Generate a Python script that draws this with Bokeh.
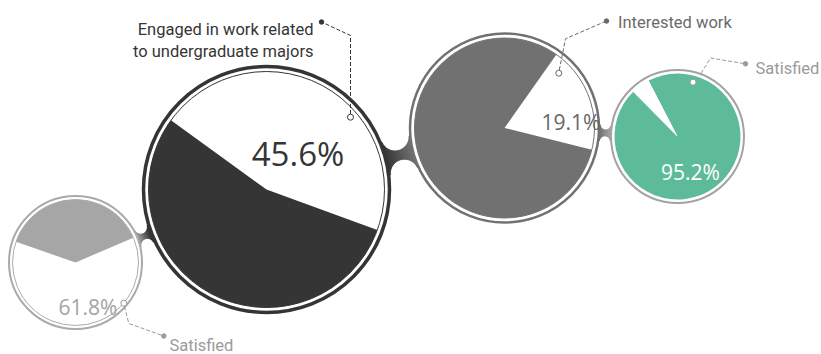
import math
import numpy as np
from bokeh.plotting import figure
from bokeh.models import Range1d
from bokeh.core.properties import value
from bokeh.embed import file_html
from bokeh.resources import INLINE

# ---------------- data ----------------
categories = ["Satisfied", "Engaged in work related\nto undergraduate majors", "Interested work", "Satisfied"]
percent = [61.8, 45.6, 19.1, 95.2]
percent_labels = ["61.8%", "45.6%", "19.1%", "95.2%"]

# ---------------- layout / style (image pixel coords) ----------------
IMG_H = 354
def Y(y):
    return IMG_H - y

cx = [75, 266, 504, 677]
cy = [262, 189, 127.5, 136]
ring_r = [66.5, 123, 94.5, 66.5]
ring_w = [2.0, 3.5, 2.5, 2.0]
pie_r = [63, 118, 90, 63]
ring_col = ["#aaaaaa", "#353535", "#717171", "#a3a3a3"]
val_col = ["#ffffff", "#ffffff", "#ffffff", "#5dbb99"]
rest_col = ["#a6a6a6", "#353535", "#717171", "#ffffff"]
mid_angle = [272.0, 62.0, 20.4, 306.0]
outline = [True, True, True, False]

bridges = [(0, 1, 5.0), (1, 2, 9.0), (2, 3, 5.0)]

W, H = 821, 354
p = figure(width=W, height=H, x_range=Range1d(0, W), y_range=Range1d(0, H),
           output_backend="svg", toolbar_location=None, x_axis_type=None, y_axis_type=None,
           min_border=0, outline_line_color=None)
p.background_fill_color = "white"
p.border_fill_color = "white"


def hex_rgb(h):
    h = h.lstrip("#")
    return tuple(int(h[i:i + 2], 16) for i in (0, 2, 4))


def mix(c1, c2, t):
    a, b = hex_rgb(c1), hex_rgb(c2)
    return "#%02x%02x%02x" % tuple(int(round(a[i] + (b[i] - a[i]) * t)) for i in range(3))


# ---------------- bridges (metaball connectors) ----------------
bx_all, by_all, bc_all = [], [], []
for i, j, wmin in bridges:
    ax_, ay_ = cx[i], Y(cy[i])
    bx_, by_ = cx[j], Y(cy[j])
    ra = ring_r[i] + ring_w[i] / 2
    rb = ring_r[j] + ring_w[j] / 2
    dx, dy = bx_ - ax_, by_ - ay_
    D = math.hypot(dx, dy)
    ux, uy = dx / D, dy / D
    vx, vy = -uy, ux
    g = D - ra - rb
    best = None
    R = max(g / 2, 0.5) + 0.01
    while R < 400:
        a, b = ra + R, rb + R
        x0 = (D * D + a * a - b * b) / (2 * D)
        h2 = a * a - x0 * x0
        if h2 > 0:
            h = math.sqrt(h2)
            if h - R >= wmin / 2:
                best = (R, x0, h, a, b)
                break
        R += 0.05
    R, x0, h, a, b = best
    sA, tA = ra * x0 / a, ra * h / a
    sB, tB = D - rb * (D - x0) / b, rb * h / b

    def half(s):
        if s <= sA:
            return tA
        if s >= sB:
            return tB
        return h - math.sqrt(max(R * R - (s - x0) ** 2, 0.0))

    n = 40
    svals = np.linspace(sA - 8, sB + 8, n + 1)
    for k in range(n):
        s0, s1 = svals[k], svals[k + 1] + 0.6
        ss = np.linspace(s0, s1, 5)
        top = [(s, half(s)) for s in ss]
        bot = [(s, -half(s)) for s in ss[::-1]]
        pts = top + bot
        bx_all.append([ax_ + s * ux + t * vx for s, t in pts])
        by_all.append([ay_ + s * uy + t * vy for s, t in pts])
        tt = min(max(((s0 + s1) / 2 - sA) / (sB - sA), 0), 1)
        bc_all.append(mix(ring_col[i], ring_col[j], tt))

p.patches(bx_all, by_all, fill_color=bc_all, line_color=bc_all, line_width=0.6)

# ---------------- rings ----------------
p.circle([cx[k] for k in range(4)], [Y(cy[k]) for k in range(4)], radius=ring_r,
         fill_color="white", line_color=ring_col, line_width=ring_w)

# ---------------- pies ----------------
for k in range(4):
    half_span = percent[k] * 1.8
    s = math.radians(mid_angle[k] - half_span)
    e = math.radians(mid_angle[k] + half_span)
    p.wedge(x=[cx[k]], y=[Y(cy[k])], radius=pie_r[k], start_angle=s, end_angle=e,
            fill_color=val_col[k], line_color=None)
    p.wedge(x=[cx[k]], y=[Y(cy[k])], radius=pie_r[k], start_angle=e, end_angle=s + 2 * math.pi,
            fill_color=rest_col[k], line_color=None)
    if outline[k]:
        p.circle(x=[cx[k]], y=[Y(cy[k])], radius=pie_r[k], fill_color=None,
                 line_color=ring_col[k], line_width=1)

# ---------------- leaders ----------------
leaders = [
    dict(pts=[(124, 306), (128.3, 323), (163.3, 335.5)], col="#9a9a9a", marker=(123.3, 302.7), mfill="white"),
    dict(pts=[(350, 113.5), (350, 35), (321, 21.5)], col="#353535", marker=(350, 116.7), mfill="white"),
    dict(pts=[(558.8, 69.5), (565, 38.3), (606, 20.5)], col="#6a6a6a", marker=(558.3, 72.7), mfill="white"),
    dict(pts=[(700.5, 73), (710, 57.5), (745, 63.3)], col="#9a9a9a", marker=(692.5, 81.7), mfill="white"),
]
for L in leaders:
    xs = [q[0] for q in L["pts"]]
    ys = [Y(q[1]) for q in L["pts"]]
    p.line(xs, ys, line_color=L["col"], line_width=1, line_dash="4 2")
    p.scatter([xs[-1]], [ys[-1]], size=4.5, marker="circle", fill_color=L["col"], line_color=L["col"])
    mx, my = L["marker"]
    p.scatter([mx], [Y(my)], size=6, marker="circle", fill_color=L["mfill"], line_color=L["col"], line_width=1)

# ---------------- percentage labels ----------------
pct_pos = [(87.5, 306), (297.5, 153), (570.5, 121.7), (690, 171.7)]
pct_size = ["21px", "33px", "21px", "21px"]
pct_col = ["#a3a3a3", "#353535", "#666666", "#ffffff"]
for k in range(4):
    p.text(x=[pct_pos[k][0]], y=[Y(pct_pos[k][1])], text=[percent_labels[k]],
           text_font=value("Open Sans"), text_font_size=pct_size[k], text_color=pct_col[k],
           text_align="center", text_baseline="alphabetic")

# ---------------- category labels ----------------
LBL_FONT = value("Roboto")
LBL_SIZE = "16.5px"
big_lines = categories[1].split("\n")
p.text(x=[313, 313], y=[Y(29), Y(51)], text=big_lines, text_font=LBL_FONT,
       text_font_size=LBL_SIZE, text_color="#353535", text_align="right", text_baseline="alphabetic")
p.text(x=[617.5], y=[Y(21.7)], text=[categories[2]], text_font=LBL_FONT,
       text_font_size=LBL_SIZE, text_color="#6a6a6a", text_align="left", text_baseline="alphabetic")
p.text(x=[755], y=[Y(68.3)], text=[categories[3]], text_font=LBL_FONT,
       text_font_size=LBL_SIZE, text_color="#9a9a9a", text_align="left", text_baseline="alphabetic")
p.text(x=[169], y=[Y(345)], text=[categories[0]], text_font=LBL_FONT,
       text_font_size=LBL_SIZE, text_color="#9a9a9a", text_align="left", text_baseline="alphabetic")

open("out.html", "w").write(file_html(p, INLINE))
